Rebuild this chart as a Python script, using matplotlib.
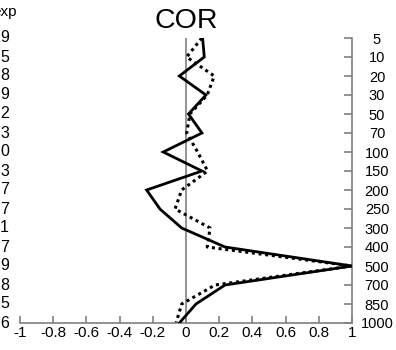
import matplotlib
matplotlib.use("Agg")
import matplotlib.pyplot as plt

plt.rcParams['font.family'] = ['Liberation Sans', 'DejaVu Sans']

levels = ["5", "10", "20", "30", "50", "70", "100", "150", "200", "250",
          "300", "400", "500", "700", "850", "1000"]
solid_vals = [0.10, 0.11, -0.04, 0.12, 0.015, 0.096, -0.137, 0.096, -0.237,
              -0.157, -0.026, 0.235, 1.0, 0.235, 0.06, -0.04]
dotted_vals = [0.095, 0.004, 0.17, 0.128, 0.024, 0.004, 0.07, 0.13, -0.026,
               -0.066, 0.145, 0.128, 1.0, 0.175, -0.026, -0.06]
left_labels = ["9", "5", "8", "9", "2", "3", "0", "3", "7", "7", "1", "7",
               "9", "8", "5", "6"]
left_header = "exp"
xticks = [-1, -0.8, -0.6, -0.4, -0.2, 0, 0.2, 0.4, 0.6, 0.8, 1]
xtick_labels = ["-1", "-0.8", "-0.6", "-0.4", "-0.2", "0", "0.2", "0.4",
                "0.6", "0.8", "1"]
title = "COR"

W, H = 396, 350
fig = plt.figure(figsize=(W / 100, H / 100), dpi=100)
ax = fig.add_axes([20 / W, (H - 323) / H, (352 - 20) / W, (323 - 38) / H])

y = list(range(len(levels)))
gray = "#808080"
ax.axvline(0, color=gray, lw=1.2, zorder=1)
ax.plot(solid_vals, y, color="black", lw=2.0, solid_joinstyle="miter", zorder=3)
ax.plot(dotted_vals, y, color="black", lw=2.2, linestyle=(0, (1, 1.2)), zorder=2)

ax.set_xlim(-1, 1)
ax.set_ylim(len(levels) - 1, 0)
for s in ["left", "top"]:
    ax.spines[s].set_visible(False)
for s in ["bottom", "right"]:
    ax.spines[s].set_color(gray)
    ax.spines[s].set_linewidth(1.2)

ax.set_xticks(xticks)
ax.set_xticklabels(xtick_labels)
ax.tick_params(axis="x", direction="in", length=5, width=1.2, color=gray,
               labelsize=11, pad=2)
ax.yaxis.tick_right()
ax.set_yticks(y)
ax.set_yticklabels(levels, ha="center")
ax.tick_params(axis="y", direction="in", length=6, width=1.2, color=gray,
               labelsize=10.5, pad=18)

fig.text(186 / W, 1 - 21.5 / H, title, ha="center", va="center", fontsize=20.5)

fig.text(17 / W, 1 - 12 / H, left_header, ha="right", va="center", fontsize=11)
for i, lab in enumerate(left_labels):
    ypix = 38 + i * (323 - 38) / (len(levels) - 1)
    fig.text(9 / W, 1 - ypix / H, lab, ha="right", va="center", fontsize=11.5)

fig.savefig("out.png", dpi=100)
